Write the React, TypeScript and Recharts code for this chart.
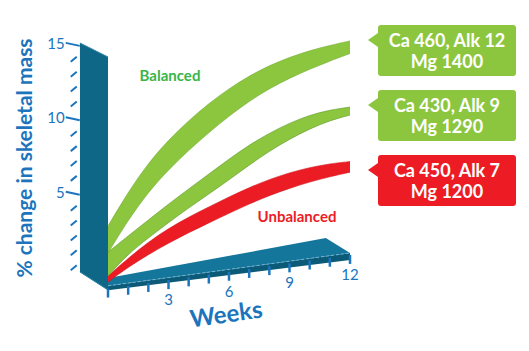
import React from 'react';
import { ComposedChart, Area, Line, XAxis, YAxis } from 'recharts';

// weeks on the floor axis
const weeks = [0, 1, 2, 3, 4, 5, 6, 7, 8, 9, 10, 11, 12];

// % change in skeletal mass, each ribbon drawn as a [low, high] band
const ca460Low = [1.95, 4.17, 6.05, 7.55, 8.85, 10.05, 11.15, 12.15, 13.0, 13.7, 14.3, 14.85, 15.35];
const ca460High = [3.77, 6.05, 8.0, 9.55, 10.85, 12.0, 13.0, 13.85, 14.55, 15.1, 15.55, 15.9, 16.2];
const ca430Low = [0.41, 1.9, 2.96, 4.0, 4.98, 5.92, 6.86, 7.86, 8.8, 9.6, 10.3, 10.85, 11.22];
const ca430High = [2.02, 3.1, 4.17, 5.25, 6.25, 7.26, 8.27, 9.21, 10.01, 10.68, 11.22, 11.56, 11.76];
const ca450Low = [0, 1.0, 1.85, 2.62, 3.32, 3.98, 4.62, 5.25, 5.82, 6.3, 6.73, 7.08, 7.38];
const ca450High = [0.41, 1.6, 2.7, 3.6, 4.37, 5.05, 5.72, 6.35, 6.9, 7.35, 7.7, 7.95, 8.1];

// axis ticks
const panelTicks = [0, 1, 2, 3, 4, 5, 6, 7, 8, 9, 10, 11, 12, 13, 14, 15];
const panelLabels = [5, 10, 15];
const weekLabels = [3, 6, 9, 12];

// decorative back panel and floor slab
const panelWeeks = [-1.39, 0];
const panelLow = [-0.32, -1.53];
const panelHigh = [15.06, 14.12];
const floorWeeks = [0, 10.8, 12];
const floorFront = [-0.25, 1.73, 1.96];
const floorBack = [0.27, 2.96, 1.96];
const slabWeeks = [0, 12];
const slabBottom = [-0.55, 1.49];
const slabEdge = [-0.25, 1.96];

const callouts = [
  { line1: 'Ca 460, Alk 12', line2: 'Mg 1400', color: '#8cc63f', top: 25 },
  { line1: 'Ca 430, Alk 9', line2: 'Mg 1290', color: '#8cc63f', top: 90 },
  { line1: 'Ca 450, Alk 7', line2: 'Mg 1200', color: '#ed1c24', top: 155 },
];

const BLUE = '#1c75bc';
const FONT = 'Lato, "Open Sans", sans-serif';
const AXIS_W = 60;

const band = (low: number[], high: number[], xs: number[]) =>
  xs.map((w, i) => ({ w, v: [low[i], high[i]] }));

const PanelTick = ({ x, y, payload }: any) => {
  const v = payload.value;
  const labelled = panelLabels.includes(v);
  const ax = x + AXIS_W; // right edge of the axis strip = panel's front face
  return (
    <g>
      {labelled ? (
        <line x1={ax - 12} y1={y - 1} x2={ax + 2} y2={y + 2} stroke={BLUE} strokeWidth={2} />
      ) : (
        <line x1={ax - 7} y1={y + 3} x2={ax - 1} y2={y - 2} stroke={BLUE} strokeWidth={2} />
      )}
      {labelled && (
        <text x={ax - 13} y={y + 5} textAnchor="end" fontSize={15} fill={BLUE} fontFamily={FONT}>
          {v}
        </text>
      )}
    </g>
  );
};

const WeekTick = ({ x, y, payload }: any) => {
  const v = payload.value;
  // floor is drawn in perspective, so ticks climb as weeks go on
  const top = y - 9 - (x - 112) * 0.139;
  return (
    <g>
      <line x1={x} y1={top} x2={x} y2={top + 9} stroke={BLUE} strokeWidth={2.5} />
      {weekLabels.includes(v) && (
        <text x={x} y={top + 25} textAnchor="middle" fontSize={15} fill={BLUE} fontFamily={FONT}>
          {v}
        </text>
      )}
    </g>
  );
};

export default function App() {
  const panel = band(panelLow, panelHigh, panelWeeks);
  const floorTop = band(floorFront, floorBack, floorWeeks);
  const slab = band(slabBottom, slabEdge, slabWeeks);
  const edge = slabWeeks.map((w, i) => ({ w, e: slabEdge[i] }));

  return (
    <div style={{ position: 'absolute', left: 0, top: 0, width: 529, height: 351, background: '#fff', fontFamily: FONT }}>
      <ComposedChart width={529} height={351} margin={{ top: 29, right: 168.9, bottom: 24, left: 17.75 }}>
        <XAxis
          dataKey="w"
          type="number"
          domain={[-1.5, 12.5]}
          ticks={weeks}
          interval={0}
          allowDataOverflow
          axisLine={false}
          tickLine={false}
          tickSize={0}
          tickMargin={0}
          height={30}
          tick={<WeekTick />}
        />
        <YAxis
          yAxisId="panel"
          type="number"
          domain={[-2, 16]}
          ticks={panelTicks}
          interval={0}
          allowDataOverflow
          axisLine={false}
          tickLine={false}
          tickSize={0}
          tickMargin={0}
          width={AXIS_W}
          tick={<PanelTick />}
        />
        <YAxis yAxisId="mass" type="number" domain={[-1, 17]} allowDataOverflow hide />

        <Area yAxisId="panel" data={panel} dataKey="v" type="linear" fill="#0f6788" fillOpacity={1} stroke="#2f86aa" strokeWidth={1} isAnimationActive={false} />
        <Area yAxisId="mass" data={slab} dataKey="v" type="linear" fill="#0b5b78" fillOpacity={1} stroke="none" isAnimationActive={false} />
        <Area yAxisId="mass" data={floorTop} dataKey="v" type="linear" fill="#15769b" fillOpacity={1} stroke="none" isAnimationActive={false} />
        <Line yAxisId="mass" data={edge} dataKey="e" type="linear" stroke="#6db3d6" strokeWidth={1} strokeDasharray="3 2" dot={false} isAnimationActive={false} />

        <Area yAxisId="mass" data={band(ca450Low, ca450High, weeks)} dataKey="v" type="basis" fill="#ec1c24" fillOpacity={1} stroke="#d0161e" strokeWidth={0.6} isAnimationActive={false} />
        <Area yAxisId="mass" data={band(ca430Low, ca430High, weeks)} dataKey="v" type="basis" fill="#8cc63f" fillOpacity={1} stroke="#5f9a2c" strokeWidth={0.6} isAnimationActive={false} />
        <Area yAxisId="mass" data={band(ca460Low, ca460High, weeks)} dataKey="v" type="basis" fill="#8cc63f" fillOpacity={1} stroke="#74ac36" strokeWidth={0.6} isAnimationActive={false} />
      </ComposedChart>

      <div
        style={{
          position: 'absolute', left: 23, top: 158, transform: 'translate(-50%, -50%) rotate(-90deg)',
          whiteSpace: 'nowrap', color: BLUE, fontSize: 21, fontWeight: 700,
        }}
      >
        % change in skeletal mass
      </div>
      <div
        style={{
          position: 'absolute', left: 226, top: 313, transform: 'translate(-50%, -50%) rotate(-8deg)',
          color: BLUE, fontSize: 24, fontWeight: 700,
        }}
      >
        Weeks
      </div>
      <div style={{ position: 'absolute', left: 170, top: 75, transform: 'translate(-50%, -50%)', color: '#39b54a', fontSize: 15, fontWeight: 700 }}>
        Balanced
      </div>
      <div style={{ position: 'absolute', left: 297, top: 216, transform: 'translate(-50%, -50%)', color: '#ed1c24', fontSize: 15, fontWeight: 700 }}>
        Unbalanced
      </div>

      {callouts.map((c) => (
        <div
          key={c.line1}
          style={{
            position: 'absolute', left: 378, top: c.top, width: 138, height: 51,
            background: c.color, borderRadius: 3, color: '#fff', fontSize: 18, fontWeight: 700,
            lineHeight: '21px', textAlign: 'center', display: 'flex', flexDirection: 'column', justifyContent: 'center',
          }}
        >
          <div
            style={{
              position: 'absolute', left: -10, top: 8, width: 0, height: 0,
              borderTop: '7px solid transparent', borderBottom: '7px solid transparent', borderRight: `10px solid ${c.color}`,
            }}
          />
          <div>{c.line1}</div>
          <div>{c.line2}</div>
        </div>
      ))}
    </div>
  );
}
